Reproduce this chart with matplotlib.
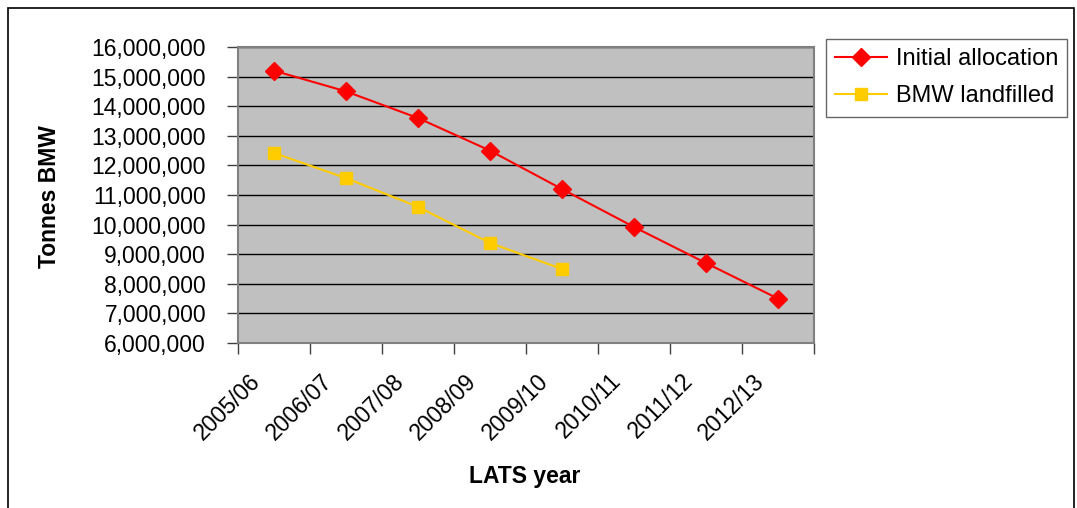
import numpy as np
import matplotlib.pyplot as plt
import matplotlib.transforms as mtransforms
from matplotlib.ticker import FuncFormatter
from matplotlib.patches import Rectangle

# ====== dados ======
years = ["2005/06", "2006/07", "2007/08", "2008/09", "2009/10",
         "2010/11", "2011/12", "2012/13"]
initial_allocation = [15.2e6, 14.5e6, 13.6e6, 12.5e6, 11.2e6, 9.92e6, 8.7e6, 7.5e6]
bmw_landfilled = [12.42e6, 11.57e6, 10.6e6, 9.38e6, 8.5e6]

plt.rcParams['font.family'] = ['Liberation Sans', 'DejaVu Sans']

fig = plt.figure(figsize=(10.77, 5.08), dpi=100)
# borda externa
fig.patches.append(Rectangle((8/1077, -0.01), 1066/1077, 1.0 - 8/508 + 0.01,
                             transform=fig.transFigure, fill=False,
                             edgecolor="black", linewidth=1.2))

ax = fig.add_axes([238/1077, 1 - 343/508, 576/1077, 296/508])
ax.set_facecolor("#C0C0C0")

x = np.arange(len(years)) + 0.5
ax.plot(x, initial_allocation, color="#FF0000", marker="D", markersize=9,
        linewidth=1.5, label="Initial allocation")
ax.plot(x[:len(bmw_landfilled)], bmw_landfilled, color="#FFCC00", marker="s",
        markersize=9, linewidth=1.5, label="BMW landfilled")

ax.set_xlim(0, len(years))
ax.set_ylim(6e6, 16e6)
ax.set_yticks(np.arange(6e6, 16e6 + 1, 1e6))
ax.yaxis.set_major_formatter(FuncFormatter(lambda v, p: f"{int(v):,}"))
ax.set_xticks(np.arange(len(years) + 1))
ax.set_xticklabels([])
ax.set_xticks(x, minor=True)
ax.tick_params(axis="x", which="minor", length=0, pad=19)
ax.tick_params(axis="x", which="major", length=8, width=1, color="#404040")
ax.tick_params(axis="y", length=8, width=1, color="#404040", labelsize=16.5, pad=15)
ax.set_xticklabels(years, minor=True, rotation=45, ha="right", va="top",
                   rotation_mode="anchor", fontsize=16.5)

# desloca os rótulos para a esquerda (depois do tick_params)
shift = mtransforms.ScaledTranslation(-25/100, 0, fig.dpi_scale_trans)
for lbl in ax.get_xticklabels(minor=True):
    lbl.set_transform(lbl.get_transform() + shift)

ax.grid(axis="y", color="black", linewidth=1)
ax.set_axisbelow(True)
for s in ax.spines.values():
    s.set_color("#808080")
    s.set_linewidth(1.5)

fig.text(50/1077, 1 - 197/508, "Tonnes BMW", fontsize=16.5, fontweight="bold",
         rotation=90, ha="center", va="center")
fig.text(525/1077, 1 - 477/508, "LATS year", fontsize=16.5, fontweight="bold",
         ha="center", va="center")

leg = ax.legend(loc="upper left", bbox_to_anchor=(826/1077, 1 - 39/508),
                bbox_transform=fig.transFigure, fontsize=17, frameon=True,
                fancybox=False, edgecolor="#404040", borderpad=0.4,
                handlelength=2.2, handletextpad=0.35, labelspacing=0.62,
                borderaxespad=0)
leg.get_frame().set_linewidth(1)

fig.savefig("out.png", dpi=100)
